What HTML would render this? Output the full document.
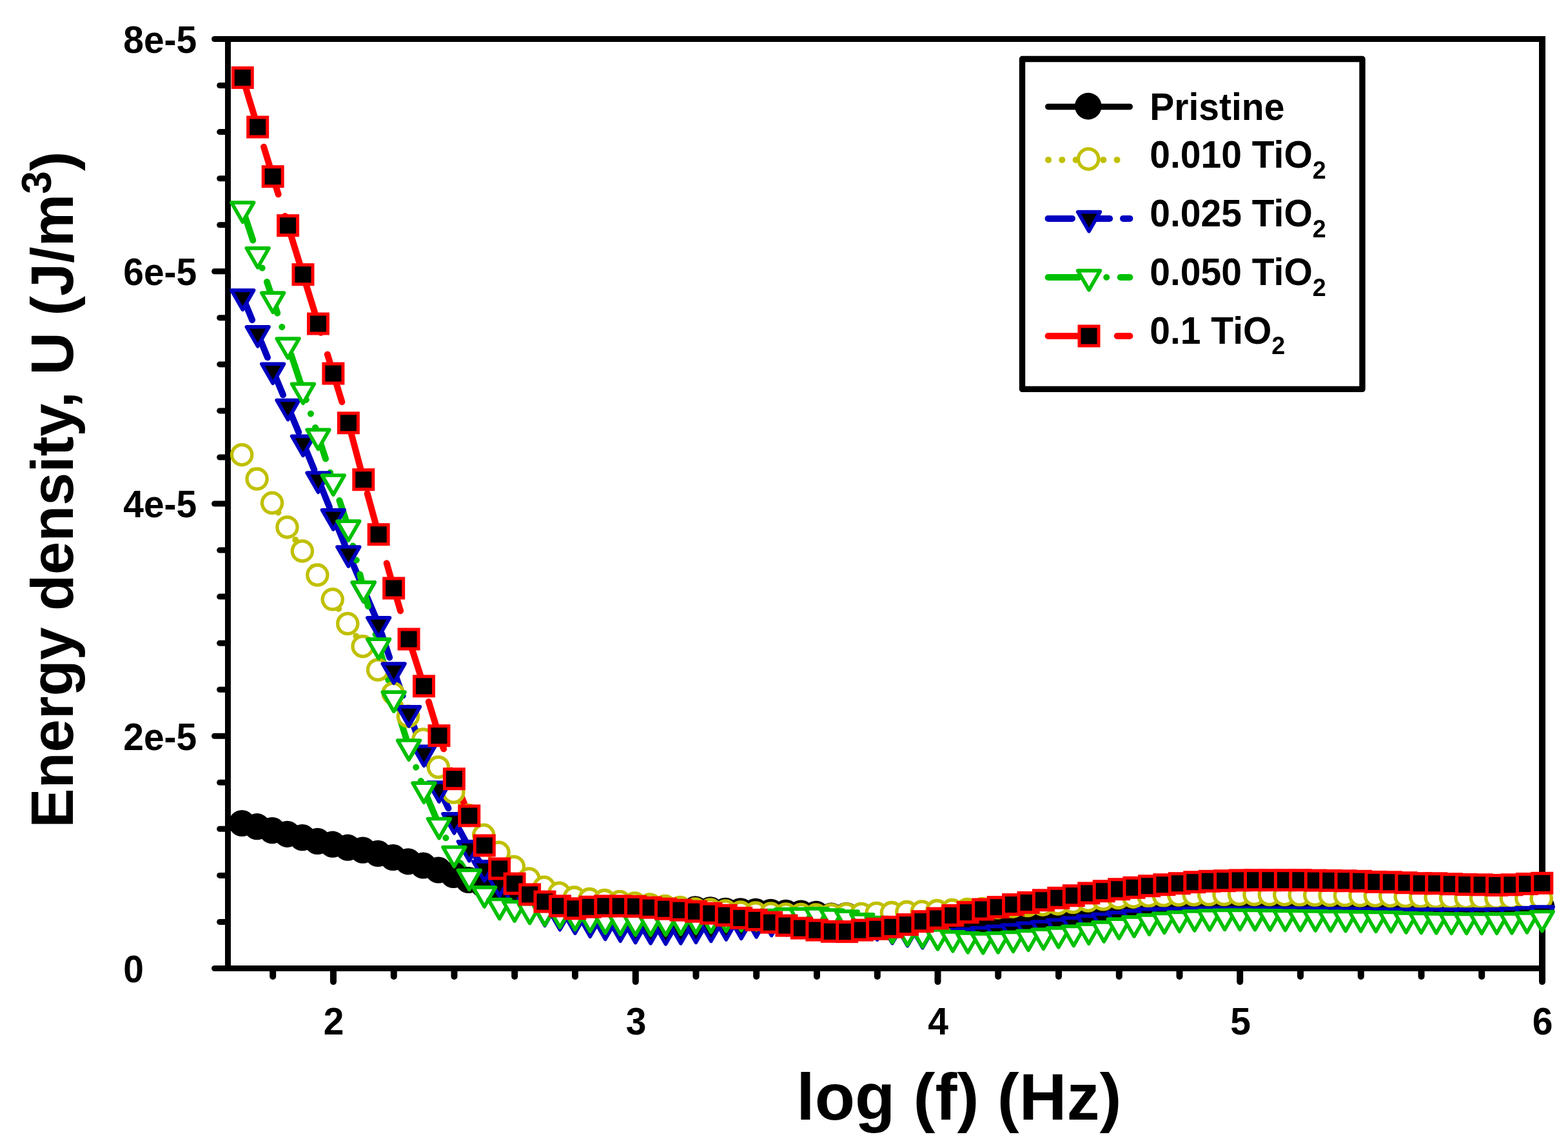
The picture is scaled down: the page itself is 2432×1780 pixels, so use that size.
<!DOCTYPE html>
<html lang="en"><head><meta charset="utf-8"><title>Energy density vs log f</title>
<style>html,body{margin:0;padding:0;background:#fff;overflow:hidden}svg{display:block}text{font-family:"Liberation Sans",sans-serif;font-weight:bold;fill:#000}.ln{fill:none;stroke-linecap:round;stroke-linejoin:round}</style></head><body>
<svg width="2432" height="1780" viewBox="0 0 2432 1780">
<rect x="0" y="0" width="2432" height="1780" fill="#fff"/>
<g class="ln" stroke="#000" stroke-width="9">
<path d="M353.5 1506V56" stroke-linecap="butt"/>
<path d="M349 60.5H2397" stroke-linecap="butt"/>
<path d="M349 1501.5H2397" stroke-linecap="butt"/>
<path d="M2392 56V1506" stroke-linecap="butt" stroke-width="10"/>
<path d="M351.5 1501.5H332.6"/>
<path d="M351.5 1429.5H340.7"/>
<path d="M351.5 1357.4H340.7"/>
<path d="M351.5 1285.3H340.7"/>
<path d="M351.5 1213.3H340.7"/>
<path d="M351.5 1141.2H332.6"/>
<path d="M351.5 1069.2H340.7"/>
<path d="M351.5 997.2H340.7"/>
<path d="M351.5 925.1H340.7"/>
<path d="M351.5 853.1H340.7"/>
<path d="M351.5 781H332.6"/>
<path d="M351.5 709H340.7"/>
<path d="M351.5 636.9H340.7"/>
<path d="M351.5 564.9H340.7"/>
<path d="M351.5 492.8H340.7"/>
<path d="M351.5 420.8H332.6"/>
<path d="M351.5 348.7H340.7"/>
<path d="M351.5 276.7H340.7"/>
<path d="M351.5 204.6H340.7"/>
<path d="M351.5 132.5H340.7"/>
<path d="M351.5 60.5H332.6"/>
</g>
<g class="ln" stroke="#000" stroke-width="10">
<path d="M423.2 1503.5V1514"/>
<path d="M517 1503.5V1522.1"/>
<path d="M610.8 1503.5V1514"/>
<path d="M704.5 1503.5V1514"/>
<path d="M798.2 1503.5V1514"/>
<path d="M892 1503.5V1514"/>
<path d="M985.8 1503.5V1522.1"/>
<path d="M1079.5 1503.5V1514"/>
<path d="M1173.2 1503.5V1514"/>
<path d="M1267 1503.5V1514"/>
<path d="M1360.8 1503.5V1514"/>
<path d="M1454.5 1503.5V1522.1"/>
<path d="M1548.2 1503.5V1514"/>
<path d="M1642 1503.5V1514"/>
<path d="M1735.8 1503.5V1514"/>
<path d="M1829.5 1503.5V1514"/>
<path d="M1923.2 1503.5V1522.1"/>
<path d="M2017 1503.5V1514"/>
<path d="M2110.8 1503.5V1514"/>
<path d="M2204.5 1503.5V1514"/>
<path d="M2298.2 1503.5V1514"/>
<path d="M2392 1503.5V1522.1"/>
</g>
<polyline class="ln" points="376.3,1277.7 399.7,1282.9 423.2,1288.8 446.6,1294.5 470,1299.8 493.5,1305.6 516.9,1310.4 540.4,1315.4 563.8,1319.3 587.2,1324.6 610.7,1330.7 634.1,1337 657.5,1343.2 681,1350.2 704.4,1357.7 727.8,1365.7 751.3,1373.2 774.7,1380.2 798.1,1386.2 821.6,1391.2 845,1395.2 868.5,1398.2 891.9,1400.7 915.3,1402.7 938.8,1404.4 962.2,1406 985.6,1407.5 1009.1,1409 1032.5,1410.5 1055.9,1411.5 1079.4,1411 1102.8,1412 1126.3,1413.6 1149.7,1414 1173.1,1414.6 1196.6,1415.6 1220,1416.6 1243.4,1417.2 1266.9,1418.6 1290.3,1421.4 1313.7,1420.7 1337.2,1421.3 1360.6,1421.9 1384,1422.5 1407.5,1423 1430.9,1423.6 1454.4,1424.2 1477.8,1423.7 1501.2,1423.2 1524.7,1422.7 1548.1,1422.2 1571.5,1421.1 1595,1420 1618.4,1419 1641.8,1417.9 1665.3,1416.8 1688.7,1415.7 1712.2,1414.6 1735.6,1413.5 1759,1412.5 1782.5,1411.4 1805.9,1410.3 1829.3,1409.2 1852.8,1409.2 1876.2,1409.2 1899.6,1409.2 1923.1,1409.2 1946.5,1409.2 1969.9,1409.2 1993.4,1409.2 2016.8,1409.2 2040.3,1409.2 2063.7,1409.2 2087.1,1409.2 2110.6,1409.2 2134,1409.2 2157.4,1409.2 2180.9,1409.2 2204.3,1409.2 2227.7,1409.2 2251.2,1409.2 2274.6,1409.2 2298.1,1409.2 2321.5,1409.2 2344.9,1409.2 2368.4,1408.2 2391.8,1407.2" stroke="#000" stroke-width="9.3"/>
<polyline class="ln" points="376.3,706.4 399.7,743.8 423.2,781 446.6,818.6 470,855.6 493.5,892.8 516.9,930.5 540.4,968.2 563.8,1003.4 587.2,1039.7 610.7,1076.2 634.1,1111.9 657.5,1147.7 681,1190.7 704.4,1229.7 727.8,1265.4 751.3,1296 774.7,1323 798.1,1345.1 821.6,1363.7 845,1377 868.5,1385.9 891.9,1392.8 915.3,1395.3 938.8,1397.3 962.2,1399.1 985.6,1401.7 1009.1,1403.7 1032.5,1406.1 1055.9,1408.1 1079.4,1410.7 1102.8,1411.7 1126.3,1413.7 1149.7,1415.7 1173.1,1416.7 1196.6,1417.7 1220,1418.7 1243.4,1419.1 1266.9,1419.7 1290.3,1419.7 1313.7,1418.7 1337.2,1418.1 1360.6,1417.1 1384,1416.3 1407.5,1415.3 1430.9,1414.7 1454.4,1413.3 1477.8,1412.3 1501.2,1411.1 1524.7,1410.1 1548.1,1408.5 1571.5,1406.8 1595,1405.2 1618.4,1403.9 1641.8,1402.6 1665.3,1400.2 1688.7,1397.8 1712.2,1395.5 1735.6,1393.2 1759,1391.9 1782.5,1390.6 1805.9,1389.7 1829.3,1388.8 1852.8,1388.5 1876.2,1388.2 1899.6,1388 1923.1,1387.8 1946.5,1388 1969.9,1388.2 1993.4,1388.4 2016.8,1388.8 2040.3,1389 2063.7,1389.2 2087.1,1389.5 2110.6,1389.8 2134,1390 2157.4,1390.4 2180.9,1391.1 2204.3,1391.8 2227.7,1392.5 2251.2,1393.2 2274.6,1393.4 2298.1,1393.5 2321.5,1393.7 2344.9,1393.9 2368.4,1394 2391.8,1394.2" stroke="#C0C000" stroke-width="10.0" stroke-dasharray="0.01 25.19" stroke-dashoffset="22.1"/>
<polyline class="ln" points="376.3,460.1 399.7,516.9 423.2,574.3 446.6,630.5 470,686.3 493.5,743.2 516.9,800.8 540.4,858 563.8,912.9 587.2,967.9 610.7,1039.2 634.1,1105.9 657.5,1167.3 681,1223 704.4,1271.8 727.8,1314.8 751.3,1345.8 774.7,1369.5 798.1,1388.5 821.6,1403.5 845,1415.2 868.5,1421.7 891.9,1427.1 915.3,1432.2 938.8,1436.4 962.2,1439.2 985.6,1441.6 1009.1,1442.8 1032.5,1443.8 1055.9,1442.8 1079.4,1441.3 1102.8,1439.3 1126.3,1436.9 1149.7,1435.3 1173.1,1432.9 1196.6,1430.5 1220,1429.5 1243.4,1429 1266.9,1429.5 1290.3,1431 1313.7,1432 1337.2,1434 1360.6,1437 1384,1442.5 1407.5,1446.5 1430.9,1449.5 1454.4,1451 1477.8,1451.5 1501.2,1450.7 1524.7,1448.5 1548.1,1446.3 1571.5,1444 1595,1441.4 1618.4,1439 1641.8,1436.4 1665.3,1433.4 1688.7,1430.4 1712.2,1427.5 1735.6,1424.8 1759,1422.3 1782.5,1419.6 1805.9,1419.3 1829.3,1419 1852.8,1418.7 1876.2,1418.4 1899.6,1418.4 1923.1,1418.4 1946.5,1418.4 1969.9,1418.4 1993.4,1418.4 2016.8,1418.4 2040.3,1418.7 2063.7,1418.9 2087.1,1419.2 2110.6,1419.5 2134,1419.7 2157.4,1420 2180.9,1420 2204.3,1420 2227.7,1420 2251.2,1420 2274.6,1420 2298.1,1420 2321.5,1419.6 2344.9,1418.8 2368.4,1417.6 2391.8,1416" stroke="#0000C0" stroke-width="10.0" stroke-dasharray="39 23.8"/>
<polyline class="ln" points="376.3,324.2 399.7,394.8 423.2,464.2 446.6,535.1 470,605.3 493.5,676.3 516.9,747 540.4,818.1 563.8,912.9 587.2,1001.1 610.7,1083.1 634.1,1158 657.5,1224.2 681,1279.5 704.4,1323.5 727.8,1359.3 751.3,1385.9 774.7,1404.5 798.1,1408.1 821.6,1411.6 845,1414.3 868.5,1417.8 891.9,1421.6 915.3,1424.3 938.8,1426.9 962.2,1428.9 985.6,1429.9 1009.1,1429.9 1032.5,1429.9 1055.9,1428.3 1079.4,1426.9 1102.8,1425.3 1126.3,1423.9 1149.7,1422.9 1173.1,1422.2 1196.6,1421.6 1220,1419.6 1243.4,1419.4 1266.9,1418.9 1290.3,1421 1313.7,1423.1 1337.2,1427.9 1360.6,1432.7 1384,1441.3 1407.5,1445.3 1430.9,1448.3 1454.4,1451.8 1477.8,1454.8 1501.2,1456.8 1524.7,1457.8 1548.1,1456.8 1571.5,1455.4 1595,1453.4 1618.4,1451.2 1641.8,1448.8 1665.3,1446.4 1688.7,1443.2 1712.2,1439.9 1735.6,1435.1 1759,1431.8 1782.5,1428.9 1805.9,1426.3 1829.3,1424.3 1852.8,1422.9 1876.2,1421.9 1899.6,1421.3 1923.1,1421.3 1946.5,1421.5 1969.9,1421.9 1993.4,1422.3 2016.8,1422.5 2040.3,1422.9 2063.7,1423.3 2087.1,1423.5 2110.6,1423.9 2134,1424.3 2157.4,1424.5 2180.9,1425.9 2204.3,1426.4 2227.7,1426.8 2251.2,1427.2 2274.6,1427.3 2298.1,1427.4 2321.5,1427.2 2344.9,1426.8 2368.4,1425.8 2391.8,1423.5" stroke="#00C000" stroke-width="10.0" stroke-dasharray="51 22.66 0.01 22.66 0.01 22.66"/>
<polyline class="ln" points="376.3,120.4 399.7,197 423.2,273.7 446.6,349.7 470,425.7 493.5,502 516.9,579.1 540.4,655.8 563.8,743.7 587.2,828.7 610.7,912 634.1,991 657.5,1063.9 681,1140.7 704.4,1207.7 727.8,1264.9 751.3,1311 774.7,1346.9 798.1,1370.1 821.6,1386.9 845,1398.1 868.5,1404.8 891.9,1408.8 915.3,1406.2 938.8,1404.9 962.2,1404.9 985.6,1405.4 1009.1,1407.2 1032.5,1409.2 1055.9,1411.2 1079.4,1413.2 1102.8,1416.2 1126.3,1419.2 1149.7,1423.4 1173.1,1426.4 1196.6,1430.2 1220,1435.1 1243.4,1439.1 1266.9,1442.1 1290.3,1444.3 1313.7,1444.6 1337.2,1442.1 1360.6,1440.3 1384,1437.3 1407.5,1433.6 1430.9,1428.7 1454.4,1424 1477.8,1419.4 1501.2,1414.6 1524.7,1410 1548.1,1406.6 1571.5,1402.6 1595,1399.5 1618.4,1395.8 1641.8,1392.3 1665.3,1388.7 1688.7,1384.9 1712.2,1381.7 1735.6,1378.7 1759,1376.3 1782.5,1373.7 1805.9,1371.7 1829.3,1369.7 1852.8,1367.7 1876.2,1366.3 1899.6,1365.7 1923.1,1364.9 1946.5,1364.7 1969.9,1364.7 1993.4,1364.7 2016.8,1364.7 2040.3,1365.1 2063.7,1365.4 2087.1,1365.8 2110.6,1366.3 2134,1367.4 2157.4,1367.8 2180.9,1368.7 2204.3,1369.7 2227.7,1369.8 2251.2,1370.7 2274.6,1371.5 2298.1,1371.8 2321.5,1372.5 2344.9,1371.8 2368.4,1370.5 2391.8,1369.3" stroke="#FF0000" stroke-width="10.0" stroke-dasharray="77 35.2"/>
<g fill="#000">
<circle cx="375.2" cy="1276.5" r="20.6"/>
<circle cx="398.6" cy="1281.7" r="20.6"/>
<circle cx="422.1" cy="1287.6" r="20.6"/>
<circle cx="445.5" cy="1293.3" r="20.6"/>
<circle cx="468.9" cy="1298.6" r="20.6"/>
<circle cx="492.4" cy="1304.4" r="20.6"/>
<circle cx="515.8" cy="1309.2" r="20.6"/>
<circle cx="539.3" cy="1314.2" r="20.6"/>
<circle cx="562.7" cy="1318.1" r="20.6"/>
<circle cx="586.1" cy="1323.4" r="20.6"/>
<circle cx="609.6" cy="1329.5" r="20.6"/>
<circle cx="633" cy="1335.8" r="20.6"/>
<circle cx="656.4" cy="1342" r="20.6"/>
<circle cx="679.9" cy="1349" r="20.6"/>
<circle cx="703.3" cy="1356.5" r="20.6"/>
<circle cx="726.7" cy="1364.5" r="20.6"/>
<circle cx="750.2" cy="1372" r="20.6"/>
<circle cx="773.6" cy="1379" r="20.6"/>
<circle cx="797" cy="1385" r="20.6"/>
<circle cx="820.5" cy="1390" r="20.6"/>
<circle cx="843.9" cy="1394" r="20.6"/>
<circle cx="867.4" cy="1397" r="20.6"/>
<circle cx="890.8" cy="1399.5" r="20.6"/>
<circle cx="914.2" cy="1401.5" r="20.6"/>
<circle cx="937.7" cy="1403.2" r="20.6"/>
<circle cx="961.1" cy="1404.8" r="20.6"/>
<circle cx="984.5" cy="1406.3" r="20.6"/>
<circle cx="1008" cy="1407.8" r="20.6"/>
<circle cx="1031.4" cy="1409.3" r="20.6"/>
<circle cx="1054.8" cy="1410.3" r="20.6"/>
<circle cx="1078.3" cy="1409.8" r="20.6"/>
<circle cx="1101.7" cy="1410.8" r="20.6"/>
<circle cx="1125.2" cy="1412.4" r="20.6"/>
<circle cx="1148.6" cy="1412.8" r="20.6"/>
<circle cx="1172" cy="1413.4" r="20.6"/>
<circle cx="1195.5" cy="1414.4" r="20.6"/>
<circle cx="1218.9" cy="1415.4" r="20.6"/>
<circle cx="1242.3" cy="1416" r="20.6"/>
<circle cx="1265.8" cy="1417.4" r="20.6"/>
<circle cx="1289.2" cy="1420.2" r="20.6"/>
<circle cx="1312.6" cy="1419.5" r="20.6"/>
<circle cx="1336.1" cy="1420.1" r="20.6"/>
<circle cx="1359.5" cy="1420.7" r="20.6"/>
<circle cx="1382.9" cy="1421.2" r="20.6"/>
<circle cx="1406.4" cy="1421.8" r="20.6"/>
<circle cx="1429.8" cy="1422.4" r="20.6"/>
<circle cx="1453.3" cy="1423" r="20.6"/>
<circle cx="1476.7" cy="1422.5" r="20.6"/>
<circle cx="1500.1" cy="1422" r="20.6"/>
<circle cx="1523.6" cy="1421.5" r="20.6"/>
<circle cx="1547" cy="1421" r="20.6"/>
<circle cx="1570.4" cy="1419.9" r="20.6"/>
<circle cx="1593.9" cy="1418.8" r="20.6"/>
<circle cx="1617.3" cy="1417.8" r="20.6"/>
<circle cx="1640.7" cy="1416.7" r="20.6"/>
<circle cx="1664.2" cy="1415.6" r="20.6"/>
<circle cx="1687.6" cy="1414.5" r="20.6"/>
<circle cx="1711.1" cy="1413.4" r="20.6"/>
<circle cx="1734.5" cy="1412.3" r="20.6"/>
<circle cx="1757.9" cy="1411.2" r="20.6"/>
<circle cx="1781.4" cy="1410.2" r="20.6"/>
<circle cx="1804.8" cy="1409.1" r="20.6"/>
<circle cx="1828.2" cy="1408" r="20.6"/>
<circle cx="1851.7" cy="1408" r="20.6"/>
<circle cx="1875.1" cy="1408" r="20.6"/>
<circle cx="1898.5" cy="1408" r="20.6"/>
<circle cx="1922" cy="1408" r="20.6"/>
<circle cx="1945.4" cy="1408" r="20.6"/>
<circle cx="1968.8" cy="1408" r="20.6"/>
<circle cx="1992.3" cy="1408" r="20.6"/>
<circle cx="2015.7" cy="1408" r="20.6"/>
<circle cx="2039.2" cy="1408" r="20.6"/>
<circle cx="2062.6" cy="1408" r="20.6"/>
<circle cx="2086" cy="1408" r="20.6"/>
<circle cx="2109.5" cy="1408" r="20.6"/>
<circle cx="2132.9" cy="1408" r="20.6"/>
<circle cx="2156.3" cy="1408" r="20.6"/>
<circle cx="2179.8" cy="1408" r="20.6"/>
<circle cx="2203.2" cy="1408" r="20.6"/>
<circle cx="2226.6" cy="1408" r="20.6"/>
<circle cx="2250.1" cy="1408" r="20.6"/>
<circle cx="2273.5" cy="1408" r="20.6"/>
<circle cx="2297" cy="1408" r="20.6"/>
<circle cx="2320.4" cy="1408" r="20.6"/>
<circle cx="2343.8" cy="1408" r="20.6"/>
<circle cx="2367.3" cy="1407" r="20.6"/>
<circle cx="2390.7" cy="1406" r="20.6"/>
</g>
<g fill="#fff" stroke="#C0C000" stroke-width="5.3">
<circle cx="375.2" cy="705.2" r="15.6"/>
<circle cx="398.6" cy="742.6" r="15.6"/>
<circle cx="422.1" cy="779.8" r="15.6"/>
<circle cx="445.5" cy="817.4" r="15.6"/>
<circle cx="468.9" cy="854.4" r="15.6"/>
<circle cx="492.4" cy="891.6" r="15.6"/>
<circle cx="515.8" cy="929.3" r="15.6"/>
<circle cx="539.3" cy="967" r="15.6"/>
<circle cx="562.7" cy="1002.2" r="15.6"/>
<circle cx="586.1" cy="1038.5" r="15.6"/>
<circle cx="609.6" cy="1075" r="15.6"/>
<circle cx="633" cy="1110.7" r="15.6"/>
<circle cx="656.4" cy="1146.5" r="15.6"/>
<circle cx="679.9" cy="1189.5" r="15.6"/>
<circle cx="703.3" cy="1228.5" r="15.6"/>
<circle cx="726.7" cy="1264.2" r="15.6"/>
<circle cx="750.2" cy="1294.8" r="15.6"/>
<circle cx="773.6" cy="1321.8" r="15.6"/>
<circle cx="797" cy="1343.9" r="15.6"/>
<circle cx="820.5" cy="1362.5" r="15.6"/>
<circle cx="843.9" cy="1375.8" r="15.6"/>
<circle cx="867.4" cy="1384.7" r="15.6"/>
<circle cx="890.8" cy="1391.6" r="15.6"/>
<circle cx="914.2" cy="1394.1" r="15.6"/>
<circle cx="937.7" cy="1396.1" r="15.6"/>
<circle cx="961.1" cy="1397.9" r="15.6"/>
<circle cx="984.5" cy="1400.5" r="15.6"/>
<circle cx="1008" cy="1402.5" r="15.6"/>
<circle cx="1031.4" cy="1404.9" r="15.6"/>
<circle cx="1054.8" cy="1406.9" r="15.6"/>
<circle cx="1078.3" cy="1409.5" r="15.6"/>
<circle cx="1101.7" cy="1410.5" r="15.6"/>
<circle cx="1125.2" cy="1412.5" r="15.6"/>
<circle cx="1148.6" cy="1414.5" r="15.6"/>
<circle cx="1172" cy="1415.5" r="15.6"/>
<circle cx="1195.5" cy="1416.5" r="15.6"/>
<circle cx="1218.9" cy="1417.5" r="15.6"/>
<circle cx="1242.3" cy="1417.9" r="15.6"/>
<circle cx="1265.8" cy="1418.5" r="15.6"/>
<circle cx="1289.2" cy="1418.5" r="15.6"/>
<circle cx="1312.6" cy="1417.5" r="15.6"/>
<circle cx="1336.1" cy="1416.9" r="15.6"/>
<circle cx="1359.5" cy="1415.9" r="15.6"/>
<circle cx="1382.9" cy="1415.1" r="15.6"/>
<circle cx="1406.4" cy="1414.1" r="15.6"/>
<circle cx="1429.8" cy="1413.5" r="15.6"/>
<circle cx="1453.3" cy="1412.1" r="15.6"/>
<circle cx="1476.7" cy="1411.1" r="15.6"/>
<circle cx="1500.1" cy="1409.9" r="15.6"/>
<circle cx="1523.6" cy="1408.9" r="15.6"/>
<circle cx="1547" cy="1407.3" r="15.6"/>
<circle cx="1570.4" cy="1405.6" r="15.6"/>
<circle cx="1593.9" cy="1404" r="15.6"/>
<circle cx="1617.3" cy="1402.7" r="15.6"/>
<circle cx="1640.7" cy="1401.4" r="15.6"/>
<circle cx="1664.2" cy="1399" r="15.6"/>
<circle cx="1687.6" cy="1396.6" r="15.6"/>
<circle cx="1711.1" cy="1394.3" r="15.6"/>
<circle cx="1734.5" cy="1392" r="15.6"/>
<circle cx="1757.9" cy="1390.7" r="15.6"/>
<circle cx="1781.4" cy="1389.4" r="15.6"/>
<circle cx="1804.8" cy="1388.5" r="15.6"/>
<circle cx="1828.2" cy="1387.6" r="15.6"/>
<circle cx="1851.7" cy="1387.3" r="15.6"/>
<circle cx="1875.1" cy="1387" r="15.6"/>
<circle cx="1898.5" cy="1386.8" r="15.6"/>
<circle cx="1922" cy="1386.6" r="15.6"/>
<circle cx="1945.4" cy="1386.8" r="15.6"/>
<circle cx="1968.8" cy="1387" r="15.6"/>
<circle cx="1992.3" cy="1387.2" r="15.6"/>
<circle cx="2015.7" cy="1387.6" r="15.6"/>
<circle cx="2039.2" cy="1387.8" r="15.6"/>
<circle cx="2062.6" cy="1388" r="15.6"/>
<circle cx="2086" cy="1388.3" r="15.6"/>
<circle cx="2109.5" cy="1388.6" r="15.6"/>
<circle cx="2132.9" cy="1388.8" r="15.6"/>
<circle cx="2156.3" cy="1389.2" r="15.6"/>
<circle cx="2179.8" cy="1389.9" r="15.6"/>
<circle cx="2203.2" cy="1390.6" r="15.6"/>
<circle cx="2226.6" cy="1391.3" r="15.6"/>
<circle cx="2250.1" cy="1392" r="15.6"/>
<circle cx="2273.5" cy="1392.2" r="15.6"/>
<circle cx="2297" cy="1392.3" r="15.6"/>
<circle cx="2320.4" cy="1392.5" r="15.6"/>
<circle cx="2343.8" cy="1392.7" r="15.6"/>
<circle cx="2367.3" cy="1392.8" r="15.6"/>
<circle cx="2390.7" cy="1393" r="15.6"/>
</g>
<g fill="#000" stroke="#0000C0" stroke-width="5.7" stroke-linejoin="round">
<path d="M359 450.1h34.6L376.3 480.1z"/>
<path d="M382.4 506.9h34.6L399.7 536.9z"/>
<path d="M405.9 564.3h34.6L423.2 594.3z"/>
<path d="M429.3 620.5h34.6L446.6 650.5z"/>
<path d="M452.7 676.3h34.6L470 706.3z"/>
<path d="M476.2 733.2h34.6L493.5 763.2z"/>
<path d="M499.6 790.8h34.6L516.9 820.8z"/>
<path d="M523.1 848h34.6L540.4 878z"/>
<path d="M546.5 902.9h34.6L563.8 932.9z"/>
<path d="M569.9 957.9h34.6L587.2 987.9z"/>
<path d="M593.4 1029.2h34.6L610.7 1059.2z"/>
<path d="M616.8 1095.9h34.6L634.1 1125.9z"/>
<path d="M640.2 1157.3h34.6L657.5 1187.3z"/>
<path d="M663.7 1213h34.6L681 1243z"/>
<path d="M687.1 1261.8h34.6L704.4 1291.8z"/>
<path d="M710.5 1304.8h34.6L727.8 1334.8z"/>
<path d="M734 1335.8h34.6L751.3 1365.8z"/>
<path d="M757.4 1359.5h34.6L774.7 1389.5z"/>
<path d="M780.8 1378.5h34.6L798.1 1408.5z"/>
<path d="M804.3 1393.5h34.6L821.6 1423.5z"/>
<path d="M827.7 1405.2h34.6L845 1435.2z"/>
<path d="M851.2 1411.7h34.6L868.5 1441.7z"/>
<path d="M874.6 1417.1h34.6L891.9 1447.1z"/>
<path d="M898 1422.2h34.6L915.3 1452.2z"/>
<path d="M921.5 1426.4h34.6L938.8 1456.4z"/>
<path d="M944.9 1429.2h34.6L962.2 1459.2z"/>
<path d="M968.3 1431.6h34.6L985.6 1461.6z"/>
<path d="M991.8 1432.8h34.6L1009.1 1462.8z"/>
<path d="M1015.2 1433.8h34.6L1032.5 1463.8z"/>
<path d="M1038.6 1432.8h34.6L1055.9 1462.8z"/>
<path d="M1062.1 1431.3h34.6L1079.4 1461.3z"/>
<path d="M1085.5 1429.3h34.6L1102.8 1459.3z"/>
<path d="M1109 1426.9h34.6L1126.3 1456.9z"/>
<path d="M1132.4 1425.3h34.6L1149.7 1455.3z"/>
<path d="M1155.8 1422.9h34.6L1173.1 1452.9z"/>
<path d="M1179.3 1420.5h34.6L1196.6 1450.5z"/>
<path d="M1202.7 1419.5h34.6L1220 1449.5z"/>
<path d="M1226.1 1419h34.6L1243.4 1449z"/>
<path d="M1249.6 1419.5h34.6L1266.9 1449.5z"/>
<path d="M1273 1421h34.6L1290.3 1451z"/>
<path d="M1296.4 1422h34.6L1313.7 1452z"/>
<path d="M1319.9 1424h34.6L1337.2 1454z"/>
<path d="M1343.3 1427h34.6L1360.6 1457z"/>
<path d="M1366.7 1432.5h34.6L1384 1462.5z"/>
<path d="M1390.2 1436.5h34.6L1407.5 1466.5z"/>
<path d="M1413.6 1439.5h34.6L1430.9 1469.5z"/>
<path d="M1437.1 1441h34.6L1454.4 1471z"/>
<path d="M1460.5 1441.5h34.6L1477.8 1471.5z"/>
<path d="M1483.9 1440.7h34.6L1501.2 1470.7z"/>
<path d="M1507.4 1438.5h34.6L1524.7 1468.5z"/>
<path d="M1530.8 1436.3h34.6L1548.1 1466.3z"/>
<path d="M1554.2 1434h34.6L1571.5 1464z"/>
<path d="M1577.7 1431.4h34.6L1595 1461.4z"/>
<path d="M1601.1 1429h34.6L1618.4 1459z"/>
<path d="M1624.5 1426.4h34.6L1641.8 1456.4z"/>
<path d="M1648 1423.4h34.6L1665.3 1453.4z"/>
<path d="M1671.4 1420.4h34.6L1688.7 1450.4z"/>
<path d="M1694.9 1417.5h34.6L1712.2 1447.5z"/>
<path d="M1718.3 1414.8h34.6L1735.6 1444.8z"/>
<path d="M1741.7 1412.3h34.6L1759 1442.3z"/>
<path d="M1765.2 1409.6h34.6L1782.5 1439.6z"/>
<path d="M1788.6 1409.3h34.6L1805.9 1439.3z"/>
<path d="M1812 1409h34.6L1829.3 1439z"/>
<path d="M1835.5 1408.7h34.6L1852.8 1438.7z"/>
<path d="M1858.9 1408.4h34.6L1876.2 1438.4z"/>
<path d="M1882.3 1408.4h34.6L1899.6 1438.4z"/>
<path d="M1905.8 1408.4h34.6L1923.1 1438.4z"/>
<path d="M1929.2 1408.4h34.6L1946.5 1438.4z"/>
<path d="M1952.6 1408.4h34.6L1969.9 1438.4z"/>
<path d="M1976.1 1408.4h34.6L1993.4 1438.4z"/>
<path d="M1999.5 1408.4h34.6L2016.8 1438.4z"/>
<path d="M2023 1408.7h34.6L2040.3 1438.6z"/>
<path d="M2046.4 1408.9h34.6L2063.7 1438.9z"/>
<path d="M2069.8 1409.2h34.6L2087.1 1439.2z"/>
<path d="M2093.3 1409.5h34.6L2110.6 1439.4z"/>
<path d="M2116.7 1409.7h34.6L2134 1439.7z"/>
<path d="M2140.1 1410h34.6L2157.4 1440z"/>
<path d="M2163.6 1410h34.6L2180.9 1440z"/>
<path d="M2187 1410h34.6L2204.3 1440z"/>
<path d="M2210.4 1410h34.6L2227.7 1440z"/>
<path d="M2233.9 1410h34.6L2251.2 1440z"/>
<path d="M2257.3 1410h34.6L2274.6 1440z"/>
<path d="M2280.8 1410h34.6L2298.1 1440z"/>
<path d="M2304.2 1409.6h34.6L2321.5 1439.6z"/>
<path d="M2327.6 1408.8h34.6L2344.9 1438.8z"/>
<path d="M2351.1 1407.6h34.6L2368.4 1437.6z"/>
<path d="M2374.5 1406h34.6L2391.8 1436z"/>
</g>
<g fill="#fff" stroke="#00C000" stroke-width="5.7" stroke-linejoin="round">
<path d="M359 314.2h34.6L376.3 344.2z"/>
<path d="M382.4 384.8h34.6L399.7 414.8z"/>
<path d="M405.9 454.2h34.6L423.2 484.2z"/>
<path d="M429.3 525.1h34.6L446.6 555.1z"/>
<path d="M452.7 595.3h34.6L470 625.3z"/>
<path d="M476.2 666.3h34.6L493.5 696.3z"/>
<path d="M499.6 737h34.6L516.9 767z"/>
<path d="M523.1 808.1h34.6L540.4 838.1z"/>
<path d="M546.5 902.9h34.6L563.8 932.9z"/>
<path d="M569.9 991.1h34.6L587.2 1021.1z"/>
<path d="M593.4 1073.1h34.6L610.7 1103.1z"/>
<path d="M616.8 1148h34.6L634.1 1178z"/>
<path d="M640.2 1214.2h34.6L657.5 1244.2z"/>
<path d="M663.7 1269.5h34.6L681 1299.5z"/>
<path d="M687.1 1313.5h34.6L704.4 1343.5z"/>
<path d="M710.5 1349.3h34.6L727.8 1379.3z"/>
<path d="M734 1375.9h34.6L751.3 1405.9z"/>
<path d="M757.4 1394.5h34.6L774.7 1424.5z"/>
<path d="M780.8 1398.1h34.6L798.1 1428.1z"/>
<path d="M804.3 1401.6h34.6L821.6 1431.6z"/>
<path d="M827.7 1404.3h34.6L845 1434.3z"/>
<path d="M851.2 1407.8h34.6L868.5 1437.8z"/>
<path d="M874.6 1411.6h34.6L891.9 1441.6z"/>
<path d="M898 1414.3h34.6L915.3 1444.3z"/>
<path d="M921.5 1416.9h34.6L938.8 1446.9z"/>
<path d="M944.9 1418.9h34.6L962.2 1448.9z"/>
<path d="M968.3 1419.9h34.6L985.6 1449.9z"/>
<path d="M991.8 1419.9h34.6L1009.1 1449.9z"/>
<path d="M1015.2 1419.9h34.6L1032.5 1449.9z"/>
<path d="M1038.6 1418.3h34.6L1055.9 1448.3z"/>
<path d="M1062.1 1416.9h34.6L1079.4 1446.9z"/>
<path d="M1085.5 1415.3h34.6L1102.8 1445.3z"/>
<path d="M1109 1413.9h34.6L1126.3 1443.9z"/>
<path d="M1132.4 1412.9h34.6L1149.7 1442.9z"/>
<path d="M1155.8 1412.2h34.6L1173.1 1442.2z"/>
<path d="M1179.3 1411.6h34.6L1196.6 1441.6z"/>
<path d="M1202.7 1409.6h34.6L1220 1439.6z"/>
<path d="M1226.1 1409.4h34.6L1243.4 1439.4z"/>
<path d="M1249.6 1408.9h34.6L1266.9 1438.9z"/>
<path d="M1273 1411h34.6L1290.3 1441z"/>
<path d="M1296.4 1413.1h34.6L1313.7 1443.1z"/>
<path d="M1319.9 1417.9h34.6L1337.2 1447.9z"/>
<path d="M1343.3 1422.7h34.6L1360.6 1452.7z"/>
<path d="M1366.7 1431.3h34.6L1384 1461.3z"/>
<path d="M1390.2 1435.3h34.6L1407.5 1465.3z"/>
<path d="M1413.6 1438.3h34.6L1430.9 1468.3z"/>
<path d="M1437.1 1441.8h34.6L1454.4 1471.8z"/>
<path d="M1460.5 1444.8h34.6L1477.8 1474.8z"/>
<path d="M1483.9 1446.8h34.6L1501.2 1476.8z"/>
<path d="M1507.4 1447.8h34.6L1524.7 1477.8z"/>
<path d="M1530.8 1446.8h34.6L1548.1 1476.8z"/>
<path d="M1554.2 1445.4h34.6L1571.5 1475.4z"/>
<path d="M1577.7 1443.4h34.6L1595 1473.4z"/>
<path d="M1601.1 1441.2h34.6L1618.4 1471.2z"/>
<path d="M1624.5 1438.8h34.6L1641.8 1468.8z"/>
<path d="M1648 1436.4h34.6L1665.3 1466.4z"/>
<path d="M1671.4 1433.2h34.6L1688.7 1463.2z"/>
<path d="M1694.9 1429.9h34.6L1712.2 1459.9z"/>
<path d="M1718.3 1425.1h34.6L1735.6 1455.1z"/>
<path d="M1741.7 1421.8h34.6L1759 1451.8z"/>
<path d="M1765.2 1418.9h34.6L1782.5 1448.9z"/>
<path d="M1788.6 1416.3h34.6L1805.9 1446.3z"/>
<path d="M1812 1414.3h34.6L1829.3 1444.3z"/>
<path d="M1835.5 1412.9h34.6L1852.8 1442.9z"/>
<path d="M1858.9 1411.9h34.6L1876.2 1441.9z"/>
<path d="M1882.3 1411.3h34.6L1899.6 1441.3z"/>
<path d="M1905.8 1411.3h34.6L1923.1 1441.3z"/>
<path d="M1929.2 1411.5h34.6L1946.5 1441.5z"/>
<path d="M1952.6 1411.9h34.6L1969.9 1441.9z"/>
<path d="M1976.1 1412.3h34.6L1993.4 1442.3z"/>
<path d="M1999.5 1412.5h34.6L2016.8 1442.5z"/>
<path d="M2023 1412.9h34.6L2040.3 1442.9z"/>
<path d="M2046.4 1413.3h34.6L2063.7 1443.3z"/>
<path d="M2069.8 1413.5h34.6L2087.1 1443.5z"/>
<path d="M2093.3 1413.9h34.6L2110.6 1443.9z"/>
<path d="M2116.7 1414.3h34.6L2134 1444.3z"/>
<path d="M2140.1 1414.5h34.6L2157.4 1444.5z"/>
<path d="M2163.6 1415.9h34.6L2180.9 1445.9z"/>
<path d="M2187 1416.4h34.6L2204.3 1446.4z"/>
<path d="M2210.4 1416.8h34.6L2227.7 1446.8z"/>
<path d="M2233.9 1417.2h34.6L2251.2 1447.2z"/>
<path d="M2257.3 1417.3h34.6L2274.6 1447.3z"/>
<path d="M2280.8 1417.4h34.6L2298.1 1447.4z"/>
<path d="M2304.2 1417.2h34.6L2321.5 1447.2z"/>
<path d="M2327.6 1416.8h34.6L2344.9 1446.8z"/>
<path d="M2351.1 1415.8h34.6L2368.4 1445.8z"/>
<path d="M2374.5 1413.5h34.6L2391.8 1443.5z"/>
</g>
<g fill="#000" stroke="#FF0000" stroke-width="5">
<rect x="361.3" y="105.4" width="30" height="30"/>
<rect x="384.7" y="182" width="30" height="30"/>
<rect x="408.2" y="258.7" width="30" height="30"/>
<rect x="431.6" y="334.7" width="30" height="30"/>
<rect x="455" y="410.7" width="30" height="30"/>
<rect x="478.5" y="487" width="30" height="30"/>
<rect x="501.9" y="564.1" width="30" height="30"/>
<rect x="525.4" y="640.8" width="30" height="30"/>
<rect x="548.8" y="728.7" width="30" height="30"/>
<rect x="572.2" y="813.7" width="30" height="30"/>
<rect x="595.7" y="897" width="30" height="30"/>
<rect x="619.1" y="976" width="30" height="30"/>
<rect x="642.5" y="1048.9" width="30" height="30"/>
<rect x="666" y="1125.7" width="30" height="30"/>
<rect x="689.4" y="1192.7" width="30" height="30"/>
<rect x="712.8" y="1249.9" width="30" height="30"/>
<rect x="736.3" y="1296" width="30" height="30"/>
<rect x="759.7" y="1331.9" width="30" height="30"/>
<rect x="783.1" y="1355.1" width="30" height="30"/>
<rect x="806.6" y="1371.9" width="30" height="30"/>
<rect x="830" y="1383.1" width="30" height="30"/>
<rect x="853.5" y="1389.8" width="30" height="30"/>
<rect x="876.9" y="1393.8" width="30" height="30"/>
<rect x="900.3" y="1391.2" width="30" height="30"/>
<rect x="923.8" y="1389.9" width="30" height="30"/>
<rect x="947.2" y="1389.9" width="30" height="30"/>
<rect x="970.6" y="1390.4" width="30" height="30"/>
<rect x="994.1" y="1392.2" width="30" height="30"/>
<rect x="1017.5" y="1394.2" width="30" height="30"/>
<rect x="1040.9" y="1396.2" width="30" height="30"/>
<rect x="1064.4" y="1398.2" width="30" height="30"/>
<rect x="1087.8" y="1401.2" width="30" height="30"/>
<rect x="1111.3" y="1404.2" width="30" height="30"/>
<rect x="1134.7" y="1408.4" width="30" height="30"/>
<rect x="1158.1" y="1411.4" width="30" height="30"/>
<rect x="1181.6" y="1415.2" width="30" height="30"/>
<rect x="1205" y="1420.1" width="30" height="30"/>
<rect x="1228.4" y="1424.1" width="30" height="30"/>
<rect x="1251.9" y="1427.1" width="30" height="30"/>
<rect x="1275.3" y="1429.3" width="30" height="30"/>
<rect x="1298.7" y="1429.6" width="30" height="30"/>
<rect x="1322.2" y="1427.1" width="30" height="30"/>
<rect x="1345.6" y="1425.3" width="30" height="30"/>
<rect x="1369" y="1422.3" width="30" height="30"/>
<rect x="1392.5" y="1418.6" width="30" height="30"/>
<rect x="1415.9" y="1413.7" width="30" height="30"/>
<rect x="1439.4" y="1409" width="30" height="30"/>
<rect x="1462.8" y="1404.4" width="30" height="30"/>
<rect x="1486.2" y="1399.6" width="30" height="30"/>
<rect x="1509.7" y="1395" width="30" height="30"/>
<rect x="1533.1" y="1391.6" width="30" height="30"/>
<rect x="1556.5" y="1387.6" width="30" height="30"/>
<rect x="1580" y="1384.5" width="30" height="30"/>
<rect x="1603.4" y="1380.8" width="30" height="30"/>
<rect x="1626.8" y="1377.3" width="30" height="30"/>
<rect x="1650.3" y="1373.7" width="30" height="30"/>
<rect x="1673.7" y="1369.9" width="30" height="30"/>
<rect x="1697.2" y="1366.7" width="30" height="30"/>
<rect x="1720.6" y="1363.7" width="30" height="30"/>
<rect x="1744" y="1361.3" width="30" height="30"/>
<rect x="1767.5" y="1358.7" width="30" height="30"/>
<rect x="1790.9" y="1356.7" width="30" height="30"/>
<rect x="1814.3" y="1354.7" width="30" height="30"/>
<rect x="1837.8" y="1352.7" width="30" height="30"/>
<rect x="1861.2" y="1351.3" width="30" height="30"/>
<rect x="1884.6" y="1350.7" width="30" height="30"/>
<rect x="1908.1" y="1349.9" width="30" height="30"/>
<rect x="1931.5" y="1349.7" width="30" height="30"/>
<rect x="1954.9" y="1349.7" width="30" height="30"/>
<rect x="1978.4" y="1349.7" width="30" height="30"/>
<rect x="2001.8" y="1349.7" width="30" height="30"/>
<rect x="2025.3" y="1350.1" width="30" height="30"/>
<rect x="2048.7" y="1350.4" width="30" height="30"/>
<rect x="2072.1" y="1350.8" width="30" height="30"/>
<rect x="2095.6" y="1351.3" width="30" height="30"/>
<rect x="2119" y="1352.4" width="30" height="30"/>
<rect x="2142.4" y="1352.8" width="30" height="30"/>
<rect x="2165.9" y="1353.7" width="30" height="30"/>
<rect x="2189.3" y="1354.7" width="30" height="30"/>
<rect x="2212.7" y="1354.8" width="30" height="30"/>
<rect x="2236.2" y="1355.7" width="30" height="30"/>
<rect x="2259.6" y="1356.5" width="30" height="30"/>
<rect x="2283.1" y="1356.8" width="30" height="30"/>
<rect x="2306.5" y="1357.5" width="30" height="30"/>
<rect x="2329.9" y="1356.8" width="30" height="30"/>
<rect x="2353.4" y="1355.5" width="30" height="30"/>
<rect x="2376.8" y="1354.3" width="30" height="30"/>
</g>
<text transform="translate(191.2 1522.9) scale(1 1.03)" font-size="57.0">0</text>
<text transform="translate(191.2 1162.7) scale(1 1.03)" font-size="57.0">2e-5</text>
<text transform="translate(191.2 802.4) scale(1 1.03)" font-size="57.0">4e-5</text>
<text transform="translate(191.2 442.1) scale(1 1.03)" font-size="57.0">6e-5</text>
<text transform="translate(191.2 81.9) scale(1 1.03)" font-size="57.0">8e-5</text>
<text transform="translate(517.7 1604) scale(1 1.03)" font-size="57.0" text-anchor="middle">2</text>
<text transform="translate(986.5 1604) scale(1 1.03)" font-size="57.0" text-anchor="middle">3</text>
<text transform="translate(1455.2 1604) scale(1 1.03)" font-size="57.0" text-anchor="middle">4</text>
<text transform="translate(1924 1604) scale(1 1.03)" font-size="57.0" text-anchor="middle">5</text>
<text transform="translate(2392.7 1604) scale(1 1.03)" font-size="57.0" text-anchor="middle">6</text>
<text transform="translate(1235.3 1736.1)" font-size="102.0">log (f) (Hz)</text>
<text transform="translate(113.2 1283.7) rotate(-90)" font-size="91.8">Energy density, U (J/m<tspan font-size="64.0" dy="-34.7">3</tspan><tspan dy="34.7">)</tspan></text>
<rect x="1585.5" y="91.5" width="527.5" height="511.9" fill="#fff" stroke="#000" stroke-width="9.4" stroke-linejoin="round"/>
<path class="ln" d="M1625.6 165.5H1752.4" stroke="#000" stroke-width="9.3"/>
<circle cx="1687.8" cy="164.6" r="20.8" fill="#000"/>
<path class="ln" d="M1626 247.9H1752.4" stroke="#C0C000" stroke-width="10" stroke-dasharray="0.01 21.3"/>
<circle cx="1688.2" cy="246.6" r="15.7" fill="#fff" stroke="#C0C000" stroke-width="5.3"/>
<path class="ln" d="M1625.6 338.9H1752.4" stroke="#0000C0" stroke-width="10" stroke-dasharray="37.3 20.9"/>
<path d="M1671.7 328.6h34.6L1689 358.6z" fill="#000" stroke="#0000C0" stroke-width="5.7" stroke-linejoin="round"/>
<path class="ln" d="M1625.6 430H1752.4" stroke="#00C000" stroke-width="10" stroke-dasharray="47.6 21.5 0.01 21.5 0.01 21.5"/>
<path d="M1671.7 419.6h34.6L1689 449.6z" fill="#fff" stroke="#00C000" stroke-width="5.7" stroke-linejoin="round"/>
<path class="ln" d="M1625.6 521H1752.4" stroke="#FF0000" stroke-width="10" stroke-dasharray="71.2 36 77 36"/>
<rect x="1674" y="506" width="30" height="30" fill="#000" stroke="#FF0000" stroke-width="5"/>
<text transform="translate(1783.3 185.9) scale(1 1.03)" font-size="57.0">Pristine</text>
<text transform="translate(1783.3 259.7) scale(1 1.03)" font-size="57.0">0.010 TiO<tspan font-size="37.7" dy="16.5">2</tspan></text>
<text transform="translate(1783.3 350.8) scale(1 1.03)" font-size="57.0">0.025 TiO<tspan font-size="37.7" dy="16.5">2</tspan></text>
<text transform="translate(1783.3 441.7) scale(1 1.03)" font-size="57.0">0.050 TiO<tspan font-size="37.7" dy="16.5">2</tspan></text>
<text transform="translate(1783.3 532.5) scale(1 1.03)" font-size="57.0">0.1 TiO<tspan font-size="37.7" dy="16.5">2</tspan></text>
</svg></body></html>
